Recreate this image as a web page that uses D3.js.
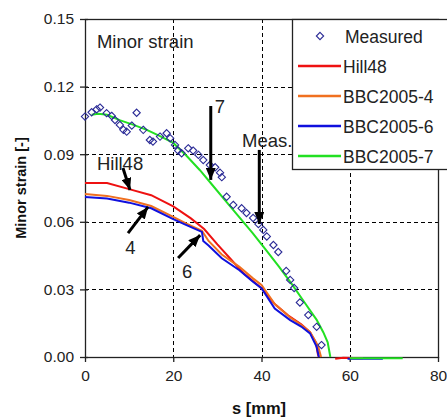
<!DOCTYPE html>
<html><head><meta charset="utf-8">
<script src="https://cdn.jsdelivr.net/npm/d3@7"></script>
<style>
html,body{margin:0;padding:0;background:#fff;}
svg{display:block;font-family:"Liberation Sans",Arial,sans-serif;}
</style></head>
<body><svg id="c" width="447" height="419"></svg>
<script>
// ---- data ----
const xTicks = [0, 20, 40, 60, 80];
const yTicks = [0.00, 0.03, 0.06, 0.09, 0.12, 0.15];
const seriesNames = ["Measured", "Hill48", "BBC2005-4", "BBC2005-6", "BBC2005-7"];

const measuredS = [0,1.5,2.65,3.4,4.9,6.05,6.8,7.9,8.7,9.45,10.6,11.7,13.2,14.7,15.4,17.0,18.5,19.3,20.4,21.1,21.9,23.4,24.5,25.7,26.8,28.3,29.5,30.6,31.0,32.1,33.6,35.5,36.6,38.1,39.3,40.4,41.2,42.7,43.8,45.6,46.5,47.4,48.7,50.6,52.5,53.6];
const measuredV = [0.1067,0.1086,0.1099,0.1107,0.1082,0.1070,0.1052,0.1030,0.1008,0.1000,0.1027,0.1084,0.1008,0.0963,0.0956,0.0978,0.0993,0.0971,0.0941,0.0916,0.0904,0.0926,0.0916,0.0897,0.0874,0.0852,0.0842,0.0818,0.0798,0.0711,0.0675,0.0660,0.0639,0.0617,0.0590,0.0564,0.0535,0.0497,0.0466,0.0382,0.0342,0.0306,0.0242,0.0186,0.0134,0.0053];

const hillS = [0,5,10,15,20,24,27,30,33,36,40,43,46,49,51,52.3,52.8,53.0,null,56.7,58.5,61];
const hillV = [0.0772,0.0772,0.0745,0.0718,0.0668,0.0615,0.0568,0.0500,0.0435,0.0370,0.0305,0.0235,0.0185,0.0145,0.0110,0.0065,0.0010,0.0,null,-0.0008,-0.0003,-0.0004];

const bbc4S = [0,5,10,15,20,23,26.5,28,31,35,38,40,43,46.5,49,51,52.8,53.5,null,60,63];
const bbc4V = [0.0723,0.0715,0.0697,0.0670,0.0622,0.0592,0.0560,0.0515,0.0455,0.0400,0.0350,0.0320,0.0235,0.0175,0.0142,0.0110,0.0050,0.0,null,-0.0006,-0.0006];

const bbc6S = [0,5,10,15,20,23,26.5,26.8,28,31,35,38,40,43,46.5,49,51,52.5,53.0,null,59.5,67.5];
const bbc6V = [0.0710,0.0703,0.0685,0.0660,0.0612,0.0585,0.0555,0.0515,0.0495,0.0438,0.0385,0.0335,0.0305,0.0215,0.0164,0.0135,0.0105,0.0045,0.0,null,-0.0008,-0.0008];

const bbc7S = [1.5,3,5,8,11,14,17,20,23,26,29,32,35,38,41,44,47,50,52.5,54,55,55.6,null,60,72];
const bbc7V = [0.1075,0.1080,0.1075,0.1050,0.1030,0.1008,0.0980,0.0950,0.0893,0.0830,0.0760,0.0690,0.0620,0.0550,0.0475,0.0400,0.0320,0.0235,0.0165,0.0110,0.0065,0.0,null,-0.0006,-0.0006];

const colors = {"Hill48":"#ee1111","BBC2005-4":"#f07020","BBC2005-6":"#1010dd","BBC2005-7":"#22e022"};
const markerColor = "#2a2a96";

// annotations (data coordinates)
const annoText = [
  {t:"Minor strain", s:2.7, v:0.137},
  {t:"7", s:29.4, v:0.1085},
  {t:"Meas.", s:35.6, v:0.0932},
  {t:"Hill48", s:2.7, v:0.0830},
  {t:"4", s:9.1, v:0.0455},
  {t:"6", s:22.0, v:0.0350}
];
const annoArrows = [
  {s1:28.5, v1:0.1114, s2:28.5, v2:0.0786},
  {s1:39.5, v1:0.0919, s2:39.5, v2:0.0590},
  {s1:8.6, v1:0.0839, s2:10.2, v2:0.0741},
  {s1:9.75, v1:0.0550, s2:14.3, v2:0.0666},
  {s1:21.1, v1:0.0439, s2:26.1, v2:0.0541}
];

// ---- chart ----
const svg = d3.select("#c");
const L = 85, R = 438, T = 19, B = 357;
const x = d3.scaleLinear().domain([0,80]).range([L,R]);
const y = d3.scaleLinear().domain([0,0.15]).range([B,T]);

// grid
const grid = svg.append("g").attr("stroke","#000").attr("stroke-width",1).attr("stroke-dasharray","4,3");
grid.selectAll(".gx").data(xTicks.slice(1,-1)).enter().append("line")
  .attr("x1",d=>Math.round(x(d))+0.5).attr("x2",d=>Math.round(x(d))+0.5).attr("y1",T).attr("y2",B);
grid.selectAll(".gy").data(yTicks.slice(1,-1)).enter().append("line")
  .attr("y1",d=>Math.round(y(d))+0.5).attr("y2",d=>Math.round(y(d))+0.5).attr("x1",L).attr("x2",R);

// frame
svg.append("rect").attr("x",L+0.5).attr("y",T+0.5).attr("width",R-L).attr("height",B-T)
  .attr("fill","none").attr("stroke","#222").attr("stroke-width",1.3);

// axes
const ax = svg.append("g").attr("transform",`translate(0,${B})`)
  .call(d3.axisBottom(x).tickValues(xTicks).tickSize(5).tickPadding(8).tickFormat(d3.format("d")));
const ay = svg.append("g").attr("transform",`translate(${L},0)`)
  .call(d3.axisLeft(y).tickValues(yTicks).tickSize(5).tickPadding(6).tickFormat(d3.format(".2f")));
[ax,ay].forEach(g=>{
  g.select(".domain").remove();
  g.selectAll(".tick line").attr("stroke","#222").attr("stroke-width",1.3);
  g.selectAll(".tick text").attr("fill","#222").style("font-size","15.5px").style("font-family","Liberation Sans, Arial, sans-serif");
});
ay.selectAll(".tick line").attr("x2",-5).attr("x1",3);

// axis titles
svg.append("text").attr("x",259).attr("y",414).attr("text-anchor","middle")
  .style("font-weight","bold").style("font-size","16.5px").attr("fill","#111").text("s [mm]");
svg.append("text").attr("transform","translate(26,188) rotate(-90)").attr("text-anchor","middle")
  .style("font-weight","bold").style("font-size","14.5px").attr("fill","#111").text("Minor strain [-]");

// series
const line = d3.line().defined(d=>d[0]!==null && d[1]!==null).x(d=>x(d[0])).y(d=>y(d[1]));
const zip = (a,b)=>a.map((v,i)=>[v,b[i]]);
const lineSeries = [
  {name:"Hill48", data:zip(hillS,hillV)},
  {name:"BBC2005-4", data:zip(bbc4S,bbc4V)},
  {name:"BBC2005-6", data:zip(bbc6S,bbc6V)},
  {name:"BBC2005-7", data:zip(bbc7S,bbc7V)}
];
svg.append("g").selectAll("path").data(lineSeries).enter().append("path")
  .attr("d",d=>line(d.data)).attr("fill","none").attr("stroke",d=>colors[d.name]).attr("stroke-width",2);

// measured diamonds
const diamond = d3.symbol().type(d3.symbolDiamond2).size(34);
svg.append("g").selectAll("path").data(zip(measuredS,measuredV)).enter().append("path")
  .attr("d",diamond).attr("transform",d=>`translate(${x(d[0])},${y(d[1])})`)
  .attr("fill","none").attr("stroke",markerColor).attr("stroke-width",1.1);

// annotations
const defs = svg.append("defs");
defs.append("marker").attr("id","ah").attr("markerUnits","userSpaceOnUse")
  .attr("viewBox","0 0 12 10").attr("refX",12).attr("refY",5).attr("markerWidth",12).attr("markerHeight",10)
  .attr("orient","auto").append("path").attr("d","M0,0 L12,5 L0,10 Z").attr("fill","#000");
svg.append("g").selectAll("line").data(annoArrows).enter().append("line")
  .attr("x1",d=>x(d.s1)).attr("y1",d=>y(d.v1)).attr("x2",d=>x(d.s2)).attr("y2",d=>y(d.v2))
  .attr("stroke","#000").attr("stroke-width",3).attr("marker-end","url(#ah)");
svg.append("g").selectAll("text").data(annoText).enter().append("text")
  .attr("x",d=>x(d.s)).attr("y",d=>y(d.v)).style("font-size","18.5px").attr("fill","#222").text(d=>d.t);

// legend
const lg = svg.append("g");
lg.append("rect").attr("x",292.5).attr("y",T+0.5).attr("width",170).attr("height",150)
  .attr("fill","#fff").attr("stroke","#222").attr("stroke-width",1.3);
const items = lg.selectAll("g").data(seriesNames).enter().append("g")
  .attr("transform",(d,i)=>`translate(0,${36+i*30})`);
items.each(function(d){
  const g = d3.select(this);
  if (d==="Measured") {
    g.append("path").attr("d",diamond).attr("transform","translate(320,0)")
      .attr("fill","none").attr("stroke",markerColor).attr("stroke-width",1.1);
  } else {
    g.append("line").attr("x1",298).attr("x2",341).attr("y1",0).attr("y2",0)
      .attr("stroke",colors[d]).attr("stroke-width",2.5);
  }
});
items.append("text").attr("x",d=>d==="Measured"?345:343).attr("y",6.5).style("font-size","17.5px").attr("fill","#222").text(d=>d);
</script></body></html>
